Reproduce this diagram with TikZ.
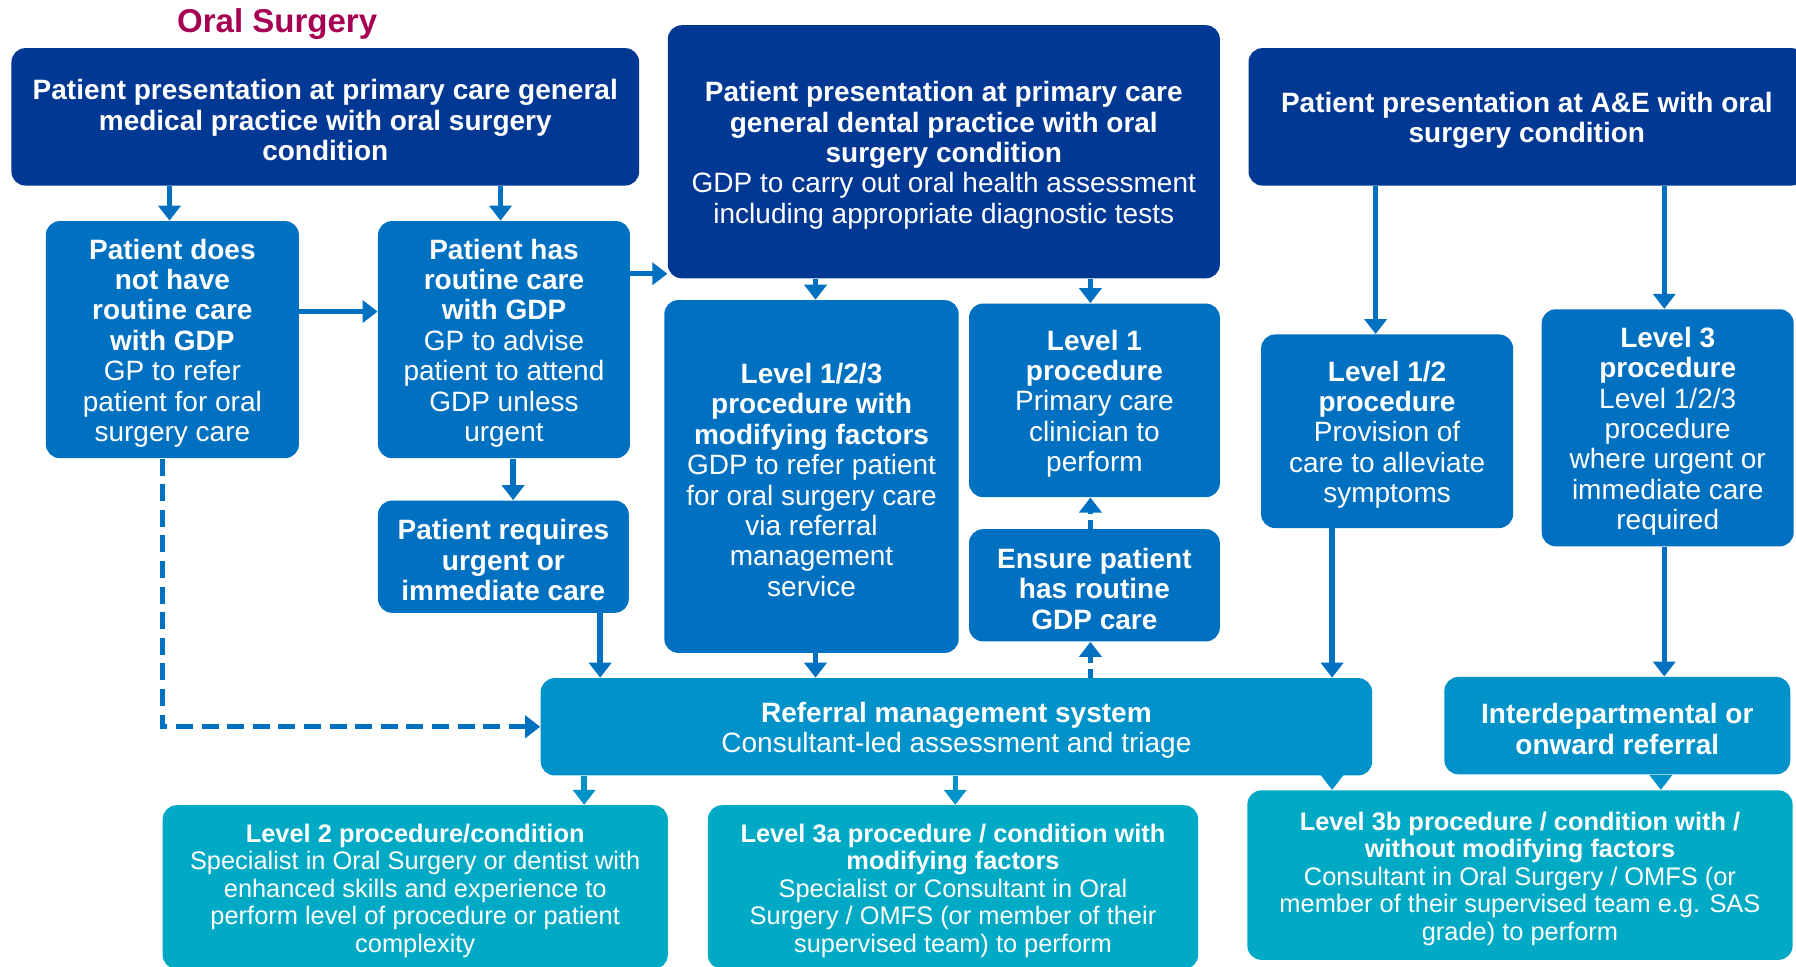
\documentclass[tikz,border=0pt]{standalone}
\usepackage{fontspec}
\setmainfont{Liberation Sans}
\usetikzlibrary{arrows.meta,fit,calc}
\definecolor{navyc}{RGB}{0,56,147}
\definecolor{midblue}{RGB}{0,112,192}
\definecolor{refblue}{RGB}{0,146,200}
\definecolor{tealc}{RGB}{0,170,196}
\definecolor{titlecol}{RGB}{166,0,82}
\tikzset{
  box/.style={rounded corners=7pt, inner sep=0pt},
  navybox/.style={box, fill=navyc},
  bluebox/.style={box, fill=midblue},
  refbox/.style={box, fill=refblue},
  tealbox/.style={box, fill=tealc},
  bigtxt/.style={inner sep=0pt, align=center, text=white, font=\fontsize{14}{15.2}\selectfont},
  smalltxt/.style={inner sep=0pt, align=center, text=white, font=\fontsize{12.7}{13.75}\selectfont},
  arr/.style={draw=midblue, line width=2.7pt, -{Triangle[width=11pt,length=7.5pt]}},
  arrl/.style={arr, draw=refblue},
  dasharr/.style={arr, dash pattern=on 8.5pt off 4.3pt},
  dotarr/.style={arr, dash pattern=on 4.5pt off 3pt},
}
\newcommand{\bl}[1]{\textbf{#1}}
% #1 box style, #2 text style, #3 name, #4 #5 corners, #6 text
\newcommand{\mybox}[6]{%
  \node[#1, fit={#4 #5}] (#3) {};
  \node[#2] (#3-t) at ([yshift=-1.7pt]#3.center) {#6};
}
\begin{document}
\begin{tikzpicture}[x=0.5727pt,y=-0.5727pt]
\useasboundingbox (0,0) rectangle (1568,844);
\clip (0,0) rectangle (1568,844);
\node[font=\fontsize{16.5}{20}\selectfont\bfseries, text=titlecol] (title) at (242,21) {Oral Surgery};
% top row
\mybox{navybox}{bigtxt}{gmp}{(10,42)}{(558,162)}{\bl{Patient presentation at primary care general}\\ \bl{medical practice with oral surgery}\\ \bl{condition}}
\mybox{navybox}{bigtxt}{gdp}{(583,22)}{(1065,243)}{\bl{Patient presentation at primary care}\\ \bl{general dental practice with oral}\\ \bl{surgery condition}\\ GDP to carry out oral health assessment\\ including appropriate diagnostic tests}
\mybox{navybox}{bigtxt}{ae}{(1090,42)}{(1576,162)}{\bl{Patient presentation at A\&E with oral}\\ \bl{surgery condition}}
% second row
\mybox{bluebox}{bigtxt}{dn}{(40,193)}{(261,400)}{\bl{Patient does}\\ \bl{not have}\\ \bl{routine care}\\ \bl{with GDP}\\ GP to refer\\ patient for oral\\ surgery care}
\mybox{bluebox}{bigtxt}{has}{(330,193)}{(550,400)}{\bl{Patient has}\\ \bl{routine care}\\ \bl{with GDP}\\ GP to advise\\ patient to attend\\ GDP unless\\ urgent}
\mybox{bluebox}{bigtxt}{req}{(330,437)}{(549,535)}{\bl{Patient requires}\\ \bl{urgent or}\\ \bl{immediate care}}
\mybox{bluebox}{bigtxt}{l123}{(580,262)}{(837,570)}{\bl{Level 1/2/3}\\ \bl{procedure with}\\ \bl{modifying factors}\\ GDP to refer patient\\ for oral surgery care\\ via referral\\ management\\ service}
\mybox{bluebox}{bigtxt}{l1}{(846,265)}{(1065,434)}{\bl{Level 1}\\ \bl{procedure}\\ Primary care\\ clinician to\\ perform}
\mybox{bluebox}{bigtxt}{ens}{(846,462)}{(1065,560)}{\bl{Ensure patient}\\ \bl{has routine}\\ \bl{GDP care}}
\mybox{bluebox}{bigtxt}{l12}{(1101,292)}{(1321,461)}{\bl{Level 1/2}\\ \bl{procedure}\\ Provision of\\ care to alleviate\\ symptoms}
\mybox{bluebox}{bigtxt}{l3}{(1346,270)}{(1566,477)}{\bl{Level 3}\\ \bl{procedure}\\ Level 1/2/3\\ procedure\\ where urgent or\\ immediate care\\ required}
% referral row
\mybox{refbox}{bigtxt}{ref}{(472,592)}{(1198,677)}{\bl{Referral management system}\\ Consultant-led assessment and triage}
\mybox{refbox}{bigtxt}{inter}{(1261,591)}{(1563,676)}{\bl{Interdepartmental or}\\ \bl{onward referral}}
% bottom row
\mybox{tealbox}{smalltxt}{lv2}{(142,703)}{(583,846)}{\bl{Level 2 procedure/condition}\\ Specialist in Oral Surgery or dentist with\\ enhanced skills and experience to\\ perform level of procedure or patient\\ complexity}
\mybox{tealbox}{smalltxt}{lv3a}{(618,703)}{(1046,846)}{\bl{Level 3a procedure / condition with}\\ \bl{modifying factors}\\ Specialist or Consultant in Oral\\ Surgery / OMFS (or member of their\\ supervised team) to perform}
\mybox{tealbox}{smalltxt}{lv3b}{(1089,690)}{(1565,838)}{\bl{Level 3b procedure / condition with /}\\ \bl{without modifying factors}\\ Consultant in Oral Surgery / OMFS (or\\ member of their supervised team e.g. SAS\\ grade) to perform}
% connectors
\draw[arr] (gmp.south -| 148,0) -- (dn.north -| 148,0);
\draw[arr] (gmp.south -| 437,0) -- (has.north -| 437,0);
\draw[arr] (dn.east |- 0,272) -- (has.west |- 0,272);
\draw[arr] (has.east |- 0,239) -- (gdp.west |- 0,239);
\draw[arr] (has.south -| 448,0) -- (req.north -| 448,0);
\draw[dasharr] (dn.south -| 142,0) |- (ref.west);
\draw[arr] (req.south -| 524,0) -- (ref.north -| 524,0);
\draw[arr] (gdp.south -| 712,0) -- (l123.north -| 712,0);
\draw[arr] (gdp.south -| 952,0) -- (l1.north -| 952,0);
\draw[arr] (l123.south -| 712,0) -- (ref.north -| 712,0);
\draw[dotarr] (ref.north -| 952,0) -- (ens.south -| 952,0);
\draw[dotarr] (ens.north -| 952,0) -- (l1.south -| 952,0);
\draw[arr] (ae.south -| 1201,0) -- (l12.north -| 1201,0);
\draw[arr] (ae.south -| 1453,0) -- (l3.north -| 1453,0);
\draw[arr] (l12.south -| 1163,0) -- (ref.north -| 1163,0);
\draw[arr] (l3.south -| 1453,0) -- (inter.north -| 1453,0);
\draw[arrl] (ref.south -| 510,0) -- (lv2.north -| 510,0);
\draw[arrl] (ref.south -| 834,0) -- (lv3a.north -| 834,0);
\draw[arrl] (ref.south -| 1163,0) -- (lv3b.north -| 1163,0);
\draw[arrl] (inter.south -| 1450,0) -- (lv3b.north -| 1450,0);
\end{tikzpicture}
\end{document}
